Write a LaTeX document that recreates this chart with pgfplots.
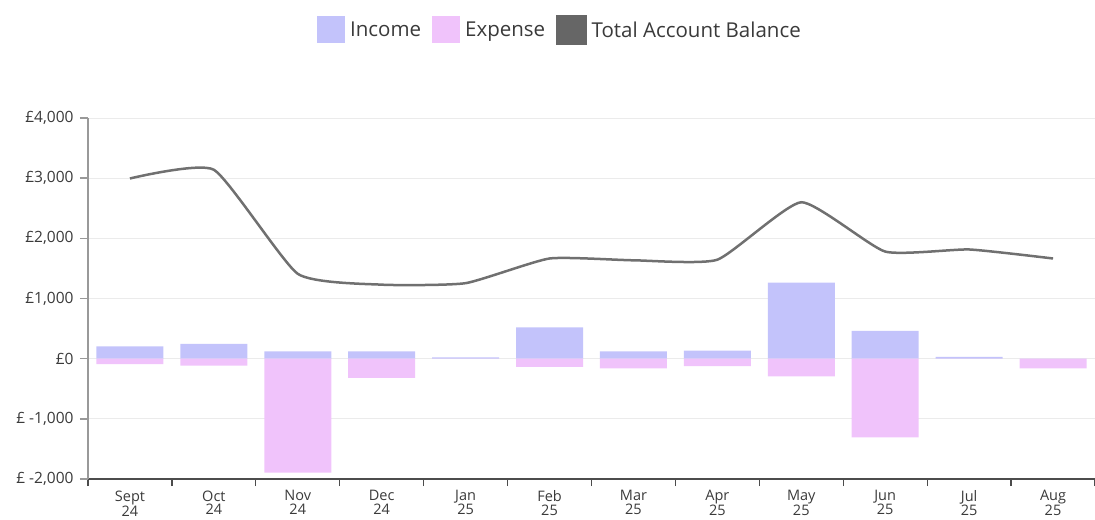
\documentclass[border=0pt]{standalone}
\usepackage{pgfplots}
\pgfplotsset{compat=1.18}
\usepackage{fontspec}
\setmainfont{Open Sans}
\definecolor{inc}{HTML}{C3C3FB}
\definecolor{exps}{HTML}{F0C3FB}
\definecolor{bal}{HTML}{707070}
\definecolor{leggray}{HTML}{666666}
\definecolor{txt}{HTML}{3A3A3A}
\begin{document}
\begin{tikzpicture}
\begin{axis}[
  at={(0,0)}, anchor=south west,
  scale only axis, width=1007bp, height=361bp,
  xmin=-0.5, xmax=11.5, ymin=-2000, ymax=4000,
  axis x line*=bottom, axis y line*=left,
  x axis line style={-, draw=black!70, line width=1.5bp},
  y axis line style={-, draw=black!40, line width=2bp},
  tick align=outside,
  xtick={0,...,11},
  xticklabels={{Sept\\24},{Oct\\24},{Nov\\24},{Dec\\24},{Jan\\25},{Feb\\25},{Mar\\25},{Apr\\25},{May\\25},{Jun\\25},{Jul\\25},{Aug\\25}},
  x tick label style={align=center, font=\fontsize{14.5bp}{13.5bp}\selectfont, text=txt},
  major x tick style={draw=none},
  minor xtick={-0.5,0.5,...,11.5},
  minor x tick style={draw=black!70, line width=1.2bp},
  minor tick length=7bp,
  major tick length=8bp,
  ytick={-2000,-1000,0,1000,2000,3000,4000},
  yticklabels={{£ -2,000},{£ -1,000},{£0},{£1,000},{£2,000},{£3,000},{£4,000}},
  y tick label style={font=\fontsize{15.5bp}{17bp}\selectfont, text=txt, xshift=-3bp},
  y tick style={draw=black!40, line width=1.5bp},
  ymajorgrids, major grid style={draw=black!8, line width=1bp},
  legend columns=3,
  legend style={at={(0.4687,1.2438)}, anchor=center, draw=none, fill=none,
    font=\fontsize{20.5bp}{22bp}\selectfont, text=txt,
    /tikz/every even column/.append style={column sep=9bp},
    /tikz/every odd column/.append style={column sep=3bp}},
]
\addplot[ybar, bar width=67bp, bar shift=0pt, fill=inc, draw=none,
  legend image code/.code={\fill[inc] (0bp,-13.5bp) rectangle (28bp,13.5bp);}]
  coordinates {(0,205) (1,245) (2,120) (3,120) (4,20) (5,520) (6,120) (7,135) (8,1265) (9,460) (10,30) (11,0)};
\addlegendentry{Income}
\addplot[ybar, bar width=67bp, bar shift=0pt, fill=exps, draw=none,
  legend image code/.code={\fill[exps] (0bp,-13.5bp) rectangle (28bp,13.5bp);}]
  coordinates {(0,-90) (1,-115) (2,-1895) (3,-320) (4,0) (5,-135) (6,-160) (7,-125) (8,-295) (9,-1310) (10,0) (11,-160)};
\addlegendentry{Expense}
\addplot[bal, line width=2.5bp, smooth, tension=0.3, mark=none,
  legend image code/.code={\fill[leggray] (0bp,-13.5bp) rectangle (28bp,13.5bp);}]
  coordinates {(0,2995) (1,3140) (2,1410) (3,1230) (4,1255) (5,1665) (6,1635) (7,1645) (8,2600) (9,1780) (10,1815) (11,1665)};
\addlegendentry{Total Account Balance}
\end{axis}
\pgfresetboundingbox
\useasboundingbox (-88bp,-41bp) rectangle (1007bp,479bp);
\end{tikzpicture}
\end{document}
